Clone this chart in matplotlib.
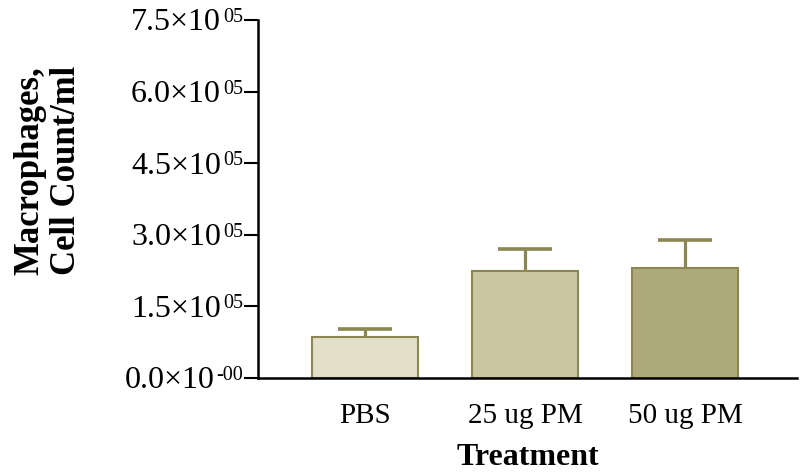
import matplotlib
matplotlib.use("Agg")
import matplotlib.pyplot as plt
import matplotlib.transforms as mtransforms
import numpy as np

categories = ["PBS", "25 ug PM", "50 ug PM"]
means = [86500, 224500, 230500]
sem_upper = [16800, 45000, 58500]
yticks = [0, 150000, 300000, 450000, 600000, 750000]
ytick_main = ["0.0\u00d710", "1.5\u00d710", "3.0\u00d710", "4.5\u00d710", "6.0\u00d710", "7.5\u00d710"]
ytick_exp = ["-00", "05", "05", "05", "05", "05"]
fill_colors = ["#e3e0c9", "#c9c6a1", "#aeaa7b"]
edge_color = "#8c8752"

plt.rcParams["font.family"] = ["Liberation Serif", "DejaVu Serif"]

fig = plt.figure(figsize=(8, 4.76), dpi=100)
ax = fig.add_axes([0.3225, 0.206, 0.674, 0.752])

x = np.arange(len(categories))
ax.bar(x, means, width=0.66, color=fill_colors, edgecolor=edge_color, linewidth=1.5, zorder=2)
eb = ax.errorbar(x, means, yerr=[np.zeros(len(means)), sem_upper], fmt="none",
                 ecolor=edge_color, elinewidth=2.3, capsize=19.5, capthick=2.6, zorder=1)
# hide lower caps (one-sided error bars)
eb[1][0].set_visible(False)

ax.set_xlim(-0.669, 2.7)
ax.set_ylim(0, 750000)
ax.set_yticks(yticks)
ax.set_yticklabels([])
ax.set_xticks(x)
ax.set_xticklabels(categories, fontsize=21)
ax.tick_params(axis="x", length=0, pad=18)
ax.tick_params(axis="y", length=10, width=1.5)

for s in ["top", "right"]:
    ax.spines[s].set_visible(False)
ax.spines["left"].set_linewidth(1.8)
ax.spines["bottom"].set_linewidth(1.8)

# custom tick labels: main text + superscript exponent
blend = mtransforms.blended_transform_factory(ax.transAxes, ax.transData)
sup_tr = mtransforms.offset_copy(blend, fig=fig, x=-15, y=-2, units="dots")
sup_texts = []
for yv, ex in zip(yticks, ytick_exp):
    t = ax.text(0, yv, ex, transform=sup_tr, ha="right", va="baseline",
                fontsize=14.5, clip_on=False)
    sup_texts.append(t)
fig.canvas.draw()
renderer = fig.canvas.get_renderer()
for yv, main, st in zip(yticks, ytick_main, sup_texts):
    bb = st.get_window_extent(renderer)
    left_px = bb.x0 - 2
    disp_y = ax.transData.transform((0, yv))[1] - 10.5
    ax.text(left_px, disp_y, main, transform=None, ha="right", va="baseline",
            fontsize=23, clip_on=False)

ax.set_xlabel("Treatment", fontsize=23, fontweight="bold", labelpad=10)
fig.text(0.06, 0.643, "Macrophages,\nCell Count/ml", rotation=90, fontsize=25,
         fontweight="bold", ha="center", va="center", multialignment="left",
         linespacing=1.15)

fig.savefig("out.png", dpi=100)
